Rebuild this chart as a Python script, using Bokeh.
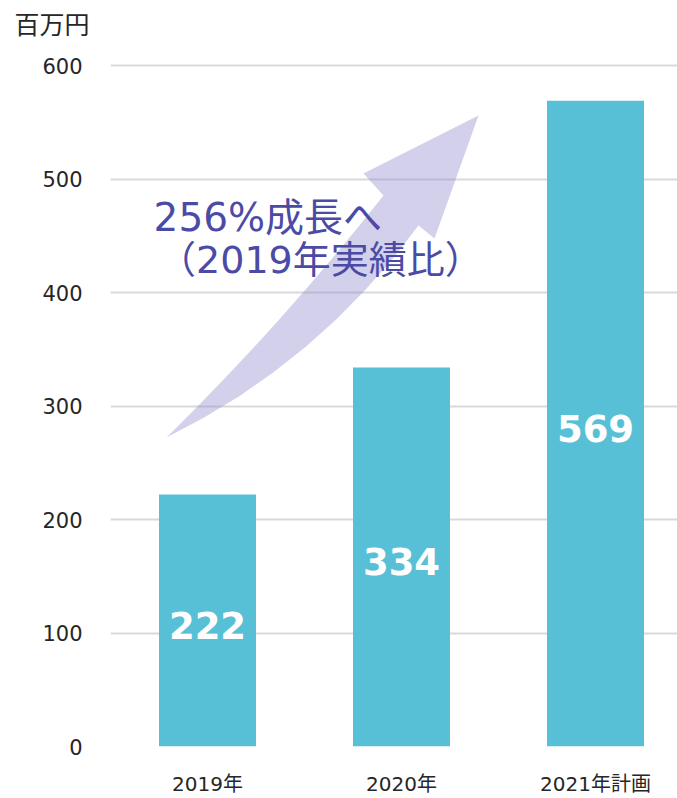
from bokeh.plotting import figure
from bokeh.models import Range1d, FixedTicker, ColumnDataSource, Label
from bokeh.core.properties import value
from bokeh.embed import file_html
from bokeh.resources import INLINE

# ---- data ----
categories = ["2019年", "2020年", "2021年計画"]
sales = [222, 334, 569]
y_ticks = [0, 100, 200, 300, 400, 500, 600]
unit_label = "百万円"
note_line1 = "256%成長へ"
note_line2 = "（2019年実績比）"

# decorative growth arrow outline (data units)
arrow_x = [-0.2113, -0.0629, 0.0830, 0.2263, 0.3675, 0.5057, 0.6423, 0.7758,
           0.9072, 0.8041, 1.3969, 1.1701, 1.0876, 0.9546, 0.8129, 0.6634,
           0.5052, 0.3387, 0.1639, -0.0196]
arrow_y = [272.2, 297.5, 323.3, 349.3, 375.8, 402.6, 429.9, 457.4,
           485.5, 504.8, 555.9, 447.6, 459.0, 429.7, 402.1, 376.2,
           352.0, 329.5, 308.7, 289.6]

xs = list(range(len(categories)))
src = ColumnDataSource(dict(x=xs, top=sales, mid=[v / 2 for v in sales],
                            lbl=[str(v) for v in sales]))

LAT = "DejaVu Sans"
MIX = "DejaVu Sans, Noto Sans CJK JP"

PX_PER_UNIT = 1.135  # vertical scale (pixels per 1 million yen)
FRAME_TOP_PAD = 20   # empty frame space above the 600 gridline (px)

p = figure(output_backend="svg", toolbar_location=None,
           frame_width=567, frame_height=701,
           min_border_left=110, min_border_right=0,
           min_border_top=45, min_border_bottom=52,
           x_range=Range1d(-0.5, -0.5 + 567 / 194),
           y_range=Range1d(0, max(y_ticks) + FRAME_TOP_PAD / PX_PER_UNIT))
p.outline_line_color = None
p.background_fill_color = "white"
p.border_fill_color = "white"

# unit title
p.title.text = unit_label
p.title.align = "left"
p.title.offset = -96
p.title.standoff = 12
p.title.text_font = MIX
p.title.text_font_size = "25px"
p.title.text_font_style = "normal"
p.title.text_color = "#262626"

# grid
p.xgrid.grid_line_color = None
p.ygrid.ticker = FixedTicker(ticks=y_ticks)
p.ygrid.grid_line_color = "#d9d9d9"
p.ygrid.grid_line_width = 2

# axes
p.yaxis.ticker = FixedTicker(ticks=y_ticks)
p.yaxis.axis_line_color = None
p.yaxis.major_tick_line_color = None
p.yaxis.minor_tick_line_color = None
p.yaxis.major_label_text_font = LAT
p.yaxis.major_label_text_font_size = "21px"
p.yaxis.major_label_text_color = "#262626"
p.yaxis.major_label_standoff = 22

p.xaxis.ticker = FixedTicker(ticks=xs)
p.xaxis.major_label_overrides = {i: c for i, c in enumerate(categories)}
p.xaxis.axis_line_color = None
p.xaxis.major_tick_line_color = None
p.xaxis.minor_tick_line_color = None
p.xaxis.major_label_text_font = MIX
p.xaxis.major_label_text_font_size = "20px"
p.xaxis.major_label_text_color = "#262626"
p.xaxis.major_label_standoff = 19

# bars
p.vbar(x="x", top="top", width=0.5, bottom=0, source=src,
       fill_color="#58c0d6", line_color=None)

# arrow
p.patch(arrow_x, arrow_y, fill_color="#8f89cc", fill_alpha=0.4, line_color=None)

# bar value labels
p.text(x="x", y="mid", text="lbl", source=src, text_align="center",
       text_baseline="middle", text_color="white", text_font=value(LAT),
       text_font_style="bold", text_font_size="37px", y_offset=5)

# annotation text
p.add_layout(Label(x=-0.278, y=466, text=note_line1, text_font=MIX,
                   text_font_size="39px", text_color="#4b4ba6",
                   text_baseline="middle", text_align="left"))
p.add_layout(Label(x=-0.255, y=429, text=note_line2, text_font=MIX,
                   text_font_size="38px", text_color="#4b4ba6",
                   text_baseline="middle", text_align="left"))

open("out.html", "w").write(file_html(p, INLINE))
